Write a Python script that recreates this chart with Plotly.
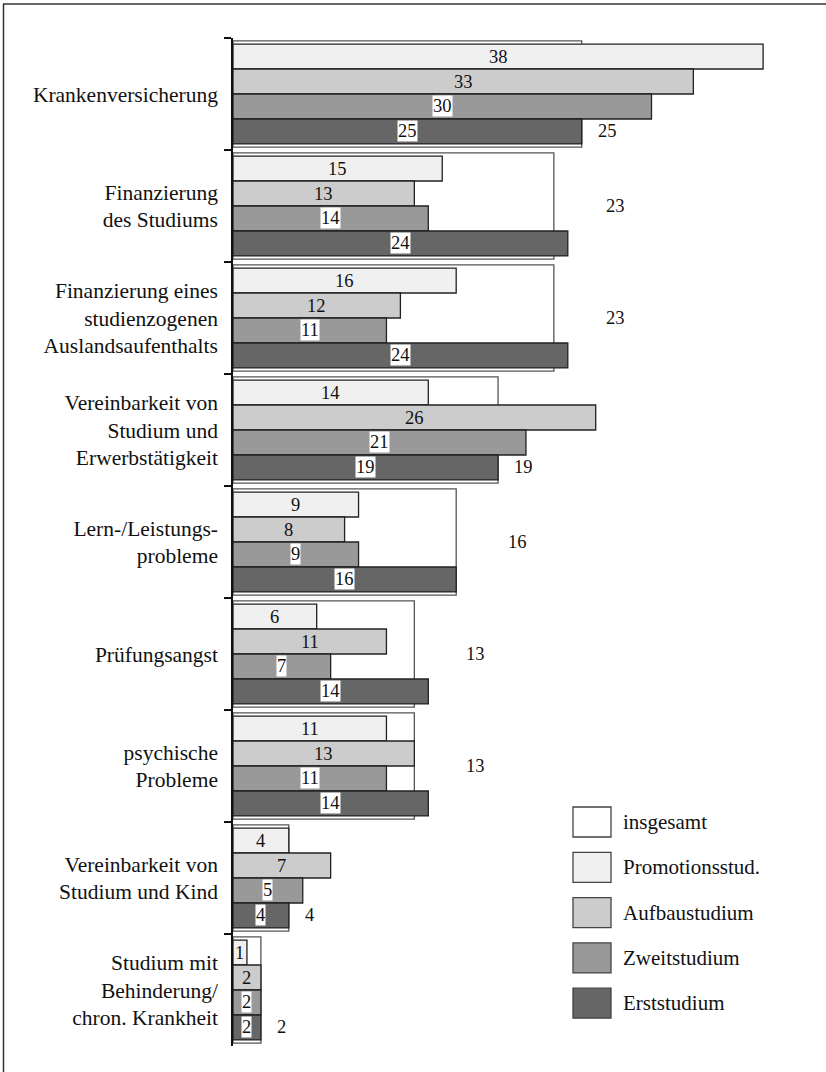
import plotly.graph_objects as go

# Problem areas (category axis, top to bottom)
categories = [
    "Krankenversicherung",
    "Finanzierung<br>des Studiums",
    "Finanzierung eines<br>studienzogenen<br>Auslandsaufenthalts",
    "Vereinbarkeit von<br>Studium und<br>Erwerbstätigkeit",
    "Lern-/Leistungs-<br>probleme",
    "Prüfungsangst",
    "psychische<br>Probleme",
    "Vereinbarkeit von<br>Studium und Kind",
    "Studium mit<br>Behinderung/<br>chron. Krankheit",
]

# Shares in percent per type of study
insgesamt = [25, 23, 23, 19, 16, 13, 13, 4, 2]
promotion = [38, 15, 16, 14, 9, 6, 11, 4, 1]
aufbau = [33, 13, 12, 26, 8, 11, 13, 7, 2]
zweit = [30, 14, 11, 21, 9, 7, 11, 5, 2]
erst = [25, 24, 24, 19, 16, 14, 14, 4, 2]

series_names = ["Promotionsstud.", "Aufbaustudium", "Zweitstudium", "Erststudium"]
series_values = [promotion, aufbau, zweit, erst]

# ---- styling / layout ----
FONT = "Liberation Serif, Times New Roman, serif"
W, H = 826, 1072
ML, MR, MT, MB = 233, 10, 38, 26
PLOT_W = W - ML - MR
PLOT_H = H - MT - MB
PX_PER_UNIT = 13.95
X_MAX = PLOT_W / PX_PER_UNIT

fills = ["#f0f0f0", "#cccccc", "#999999", "#666666"]
total_fill = "#ffffff"
bar_line = "#222222"
total_line = "#555555"
label_bg = [None, None, "#ffffff", "#ffffff"]

SUB_W = 0.223   # thickness of one sub-bar (category units)
TOTAL_W = 0.95  # thickness of the overall bar
sub_offsets = [-2 * SUB_W, -SUB_W, 0.0, SUB_W]

# overall label beside the Erststudium bar (True) or at group centre (False)
total_label_beside = [True, False, False, True, False, False, False, True, True]

VALUE_SIZE = 18.5
CAT_SIZE = 21.5
LEG_SIZE = 21

fig = go.Figure()

# overall bar drawn behind each group
fig.add_trace(go.Bar(
    y=categories, x=insgesamt, orientation="h", name="insgesamt",
    width=TOTAL_W, offset=-TOTAL_W / 2,
    marker=dict(color=total_fill, line=dict(color=total_line, width=1.3)),
    showlegend=False, hoverinfo="skip",
))

for name, vals, col, off in zip(series_names, series_values, fills, sub_offsets):
    fig.add_trace(go.Bar(
        y=categories, x=vals, orientation="h", name=name,
        width=SUB_W, offset=off,
        marker=dict(color=col, line=dict(color=bar_line, width=1.3)),
        showlegend=False, hoverinfo="skip",
    ))

annotations = []
# value labels centred in each sub-bar
for vals, off, bg in zip(series_values, sub_offsets, label_bg):
    for i, v in enumerate(vals):
        a = dict(
            x=v / 2, y=i + off + SUB_W / 2, xref="x", yref="y",
            text=str(v), showarrow=False,
            font=dict(family=FONT, size=VALUE_SIZE, color="#111111"),
            xanchor="center", yanchor="middle",
        )
        if bg:
            a.update(bgcolor=bg, borderpad=0)
        annotations.append(a)

# overall value labels
for i, v in enumerate(insgesamt):
    if total_label_beside[i]:
        y = i + sub_offsets[3] + SUB_W / 2
        shift = 14
    else:
        y = i
        shift = 50
    annotations.append(dict(
        x=v, y=y, xref="x", yref="y", text=str(v), showarrow=False,
        xanchor="left", yanchor="middle", xshift=shift,
        font=dict(family=FONT, size=VALUE_SIZE, color="#111111"),
    ))


def px_x(px):
    return (px - ML) / PLOT_W


def px_y(py):
    return (H - MB - py) / PLOT_H


shapes = []
# legend swatches
legend_items = [("insgesamt", total_fill)] + list(zip(series_names, fills))
LEG_X0, LEG_X1 = 573, 611
LEG_TOP, LEG_STEP, LEG_H = 807, 45.3, 30
for k, (lab, col) in enumerate(legend_items):
    top = LEG_TOP + k * LEG_STEP
    shapes.append(dict(
        type="rect", xref="paper", yref="paper",
        x0=px_x(LEG_X0), x1=px_x(LEG_X1), y0=px_y(top + LEG_H), y1=px_y(top),
        fillcolor=col, line=dict(color="#444444", width=1.3), layer="above",
    ))
    annotations.append(dict(
        x=px_x(621), y=px_y(top + LEG_H / 2), xref="paper", yref="paper",
        text=lab, showarrow=False, xanchor="left", yanchor="middle",
        font=dict(family=FONT, size=LEG_SIZE, color="#111111"),
    ))

# page frame (top and left edge)
shapes.append(dict(type="line", xref="paper", yref="paper",
                   x0=px_x(3), x1=px_x(W + 2), y0=px_y(4), y1=px_y(4),
                   line=dict(color="#333333", width=1.5)))
shapes.append(dict(type="line", xref="paper", yref="paper",
                   x0=px_x(3.5), x1=px_x(3.5), y0=px_y(4), y1=px_y(H + 2),
                   line=dict(color="#333333", width=1.5)))

fig.update_layout(
    width=W, height=H,
    margin=dict(l=ML, r=MR, t=MT, b=MB, pad=0),
    paper_bgcolor="white", plot_bgcolor="white",
    barmode="overlay",
    showlegend=False,
    xaxis=dict(range=[0, X_MAX], visible=False, fixedrange=True),
    yaxis=dict(
        type="category", categoryorder="array", categoryarray=categories,
        range=[len(categories) - 0.5, -0.5],
        showline=True, linecolor="#111111", linewidth=1.5,
        ticks="outside", tickson="boundaries", ticklen=7,
        tickcolor="#111111", tickwidth=1.5,
        ticklabelstandoff=9,
        showgrid=False, zeroline=False,
        tickfont=dict(family=FONT, size=CAT_SIZE, color="#111111"),
        fixedrange=True,
    ),
    annotations=annotations,
    shapes=shapes,
)

fig.write_html("out.html")
